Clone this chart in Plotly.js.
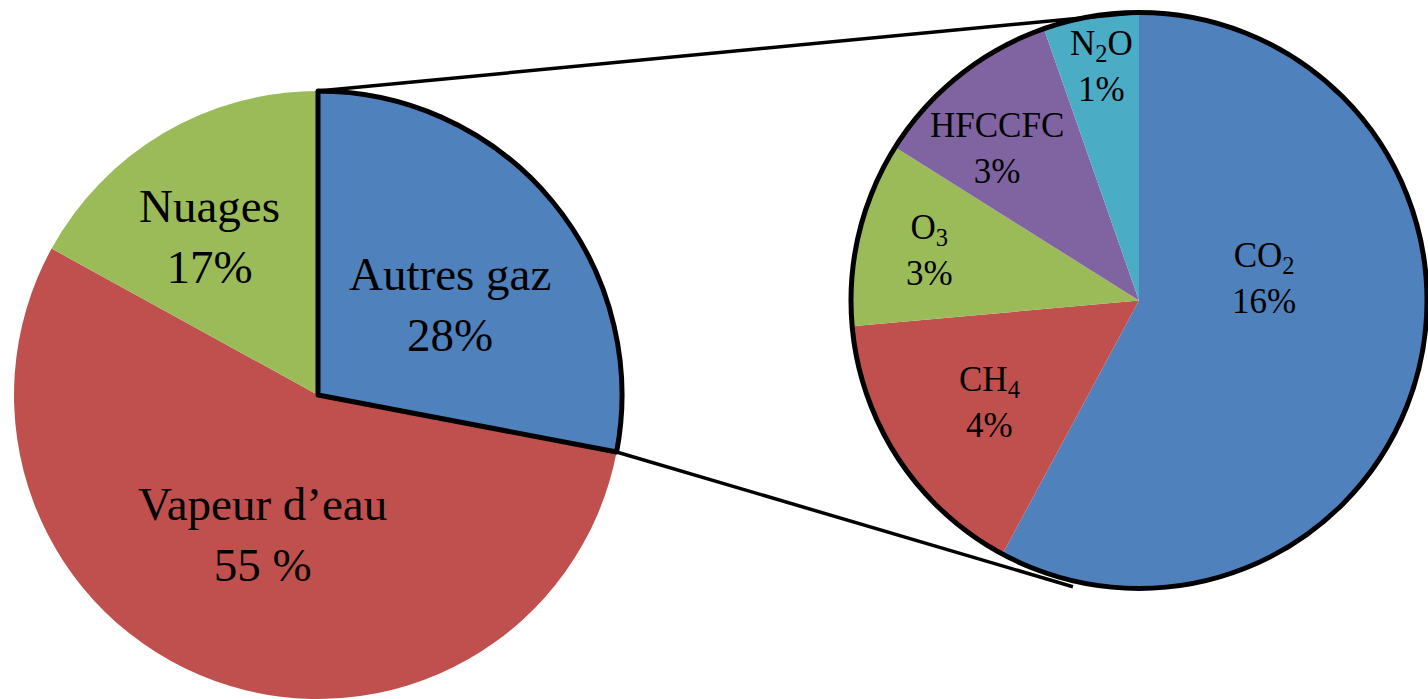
<!DOCTYPE html>
<html><head><meta charset="utf-8">
<script src="https://cdn.plot.ly/plotly-3.0.1.min.js"></script>
<style>html,body{margin:0;padding:0;overflow:hidden;background:#fff}#chart{width:1428px;height:699px}</style>
</head><body><div id="chart"></div>
<script>
// ---- Data ----
const mainLabels = ["Autres gaz", "Vapeur d’eau", "Nuages"];
const mainValues = [28, 55, 17];
const mainText = ["Autres gaz<br>28%", "Vapeur d’eau<br>55 %", "Nuages<br>17%"];

const gasLabels = ["CO2", "CH4", "O3", "HFCCFC", "N2O"];
const gasValues = [16.2, 4.4, 2.9, 3.0, 1.5];
const gasText = ["CO<sub>2</sub><br>16%", "CH<sub>4</sub><br>4%", "O<sub>3</sub><br>3%", "HFCCFC<br>3%", "N<sub>2</sub>O<br>1%"];

// ---- Style ----
const mainColors = ["#4F81BD", "#C0504D", "#9BBB59"];
const gasColors = ["#4F81BD", "#C0504D", "#9BBB59", "#8064A2", "#4BACC6"];
const W = 1428, H = 699;
const FONT = "Liberation Serif, Times New Roman, serif";
// pie geometry in pixels (center, radius)
const L = {cx: 318, cy: 395, r: 304};
const R = {cx: 1139, cy: 300.5, r: 288};
// label placement: [angle clockwise from 12 o'clock (deg), fraction of radius]
const mainLabelPos = [[55.6, 0.526], [201.5, 0.494], [325.5, 0.632]];
const gasLabelPos = [[79.8, 0.441], [235.5, 0.628], [283.3, 0.749], [317.1, 0.722], [351, 0.824]];

function dom(p) {
  return {x: [(p.cx - p.r) / W, (p.cx + p.r) / W], y: [1 - (p.cy + p.r) / H, 1 - (p.cy - p.r) / H]};
}
function polar(p, deg, f) {
  const a = deg * Math.PI / 180;
  const px = p.cx + f * p.r * Math.sin(a);
  const py = p.cy - f * p.r * Math.cos(a);
  return [px / W, 1 - py / H];
}

const common = {type: "pie", sort: false, direction: "clockwise", rotation: 0, textinfo: "none", hoverinfo: "none", showlegend: false};

const traces = [
  Object.assign({}, common, {labels: mainLabels, values: mainValues, domain: dom(L),
    marker: {colors: mainColors, line: {width: 0}}}),
  Object.assign({}, common, {labels: mainLabels, values: mainValues, domain: dom(L),
    marker: {colors: ["rgba(0,0,0,0)", "rgba(0,0,0,0)", "rgba(0,0,0,0)"], line: {color: "#000", width: [5, 0, 0]}}}),
  Object.assign({}, common, {labels: gasLabels, values: gasValues, domain: dom(R),
    marker: {colors: gasColors, line: {width: 0}}}),
  Object.assign({}, common, {labels: ["Autres gaz"], values: [mainValues[0]], domain: dom(R),
    marker: {colors: ["rgba(0,0,0,0)"], line: {color: "#000", width: 5}}})
];

const annotations = [];
mainText.forEach((t, i) => {
  const [x, y] = polar(L, mainLabelPos[i][0], mainLabelPos[i][1]);
  annotations.push({text: t, x: x, y: y, xref: "paper", yref: "paper", showarrow: false,
    xanchor: "center", yanchor: "middle", font: {family: FONT, size: 47, color: "#000"}});
});
gasText.forEach((t, i) => {
  const [x, y] = polar(R, gasLabelPos[i][0], gasLabelPos[i][1]);
  annotations.push({text: t, x: x, y: y, xref: "paper", yref: "paper", showarrow: false,
    xanchor: "center", yanchor: "middle", font: {family: FONT, size: 35, color: "#000"}});
});

// connector lines from the "Autres gaz" slice to the breakdown pie
const endAngle = 360 * mainValues[0] / mainValues.reduce((a, b) => a + b, 0);
const t0 = polar(L, 0, 1), t1 = polar(R, 0, 1);
const b0 = polar(L, endAngle, 1), b1 = polar(R, 193, 1.02);
const shapes = [
  {type: "line", xref: "paper", yref: "paper", x0: t0[0], y0: t0[1], x1: t1[0], y1: t1[1], line: {color: "#000", width: 3.5}},
  {type: "line", xref: "paper", yref: "paper", x0: b0[0], y0: b0[1], x1: b1[0], y1: b1[1], line: {color: "#000", width: 3.5}}
];

const layout = {width: W, height: H, margin: {l: 0, r: 0, t: 0, b: 0}, paper_bgcolor: "#fff",
  showlegend: false, annotations: annotations, shapes: shapes};

Plotly.newPlot("chart", traces, layout, {displayModeBar: false});
</script>
</body></html>
